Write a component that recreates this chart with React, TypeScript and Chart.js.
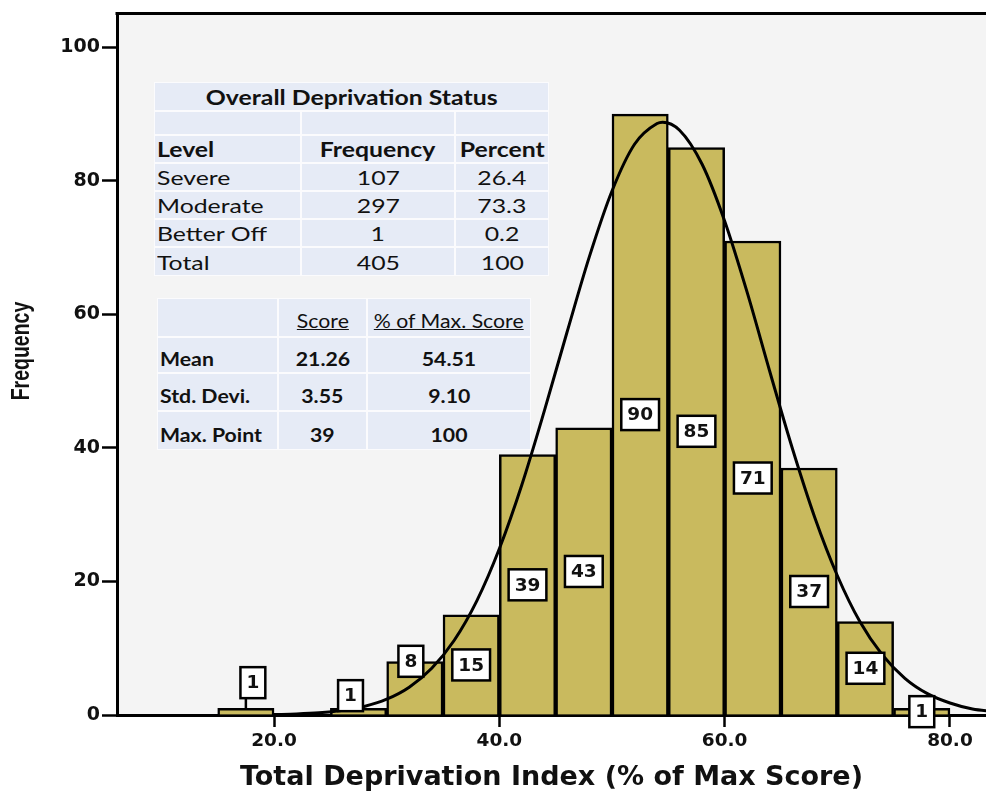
import React, { useEffect, useRef } from 'react';
import { Chart, registerables } from 'chart.js';

Chart.register(...registerables);

// ---------- data ----------
const binStarts = [15, 20, 25, 30, 35, 40, 45, 50, 55, 60, 65, 70, 75];
const binWidth = 5;
const frequencies = [1, 0, 1, 8, 15, 39, 43, 90, 85, 71, 37, 14, 1];

// fitted normal curve
const curveX = [20, 22, 24, 26, 28, 30, 32, 34, 36, 38, 40, 42, 44, 46, 48, 50, 52, 54, 54.5, 56, 58, 60, 62, 64, 66, 68, 70, 72, 74, 76, 78, 80, 82, 84];
const curveY = [0.07, 0.15, 0.32, 0.66, 1.27, 2.36, 4.16, 7.0, 11.2, 17.1, 24.9, 34.5, 45.6, 57.3, 68.7, 78.5, 85.5, 88.6, 88.8, 87.6, 82.5, 74.0, 63.3, 51.5, 40.0, 29.6, 20.9, 14.0, 9.0, 5.5, 3.2, 1.8, 0.9, 0.5];

const xTicks = [20, 40, 60, 80];
const yTicks = [0, 20, 40, 60, 80, 100];

const xTitle = 'Total Deprivation Index (% of Max Score)';
const yTitle = 'Frequency';

// overlay tables
const statusTitle = 'Overall Deprivation Status';
const statusHeaders = ['Level', 'Frequency', 'Percent'];
const statusLevels = ['Severe', 'Moderate', 'Better Off', 'Total'];
const statusFrequency = ['107', '297', '1', '405'];
const statusPercent = ['26.4', '73.3', '0.2', '100'];

const statsHeaders = ['', 'Score', '% of Max. Score'];
const statsRows = ['Mean', 'Std. Devi.', 'Max. Point'];
const statsScore = ['21.26', '3.55', '39'];
const statsPercentMax = ['54.51', '9.10', '100'];

// ---------- styling ----------
const BAR_FILL = '#c9ba5e';
const PLOT_BG = '#f4f4f4';
const CELL_BG = '#e6ebf6';
const TEXT = '#111111';

const labelNudge: Record<number, { dx: number; dy: number; leader?: boolean }> = {
  0: { dx: 7, dy: -29, leader: true },
  2: { dx: -8, dy: -16 },
  3: { dx: -4, dy: -27 },
};

const decorPlugin = {
  id: 'decor',
  beforeDraw(chart: any) {
    const { ctx, chartArea: a } = chart;
    ctx.save();
    ctx.fillStyle = '#ffffff';
    ctx.fillRect(0, 0, chart.width, chart.height);
    ctx.fillStyle = PLOT_BG;
    ctx.fillRect(a.left, a.top, a.right - a.left, a.bottom - a.top);
    ctx.restore();
  },
  afterDatasetsDraw(chart: any) {
    const { ctx } = chart;
    const meta = chart.getDatasetMeta(0);
    const ys = chart.scales.y;
    ctx.save();
    ctx.font = 'bold 18.5px "DejaVu Sans"';
    ctx.textAlign = 'center';
    ctx.textBaseline = 'middle';
    frequencies.forEach((v, i) => {
      if (!v) return;
      const bar = meta.data[i];
      const n = labelNudge[i] || { dx: 0, dy: 0 };
      const cx = bar.x + n.dx;
      const cy = ys.getPixelForValue(v / 2) + n.dy;
      const text = String(v);
      const tw = ctx.measureText(text).width;
      const w = tw + 12;
      const h = 31;
      ctx.strokeStyle = '#000';
      ctx.lineWidth = 2.5;
      if (n.leader) {
        ctx.beginPath();
        ctx.moveTo(bar.x, cy + h / 2);
        ctx.lineTo(bar.x, ys.getPixelForValue(v));
        ctx.stroke();
      }
      ctx.fillStyle = '#fff';
      ctx.fillRect(cx - w / 2, cy - h / 2, w, h);
      ctx.strokeRect(cx - w / 2, cy - h / 2, w, h);
      ctx.fillStyle = TEXT;
      ctx.fillText(text, cx, cy + 1);
    });
    ctx.restore();
  },
  afterDraw(chart: any) {
    const { ctx, chartArea: a } = chart;
    ctx.save();
    ctx.strokeStyle = '#000';
    ctx.lineWidth = 3;
    ctx.beginPath();
    ctx.moveTo(a.left - 1.5, a.top);
    ctx.lineTo(a.right, a.top);
    ctx.stroke();
    // y axis title (glyphs widened like the source)
    ctx.translate(22, 351);
    ctx.rotate(-Math.PI / 2);
    ctx.scale(1, 1.3);
    ctx.font = 'bold 19.5px "Liberation Sans"';
    ctx.fillStyle = TEXT;
    ctx.textAlign = 'center';
    ctx.textBaseline = 'middle';
    ctx.fillText(yTitle, 0, 0);
    ctx.restore();
  },
};

type CellSpec = {
  x0: number; x1: number; y0: number; y1: number;
  text?: string; align?: 'left' | 'center'; bold?: boolean; underline?: boolean; dy?: number;
};

function Cell({ c, size, stretch }: { c: CellSpec; size: number; stretch: number }) {
  const left = c.align === 'left';
  return (
    <div
      style={{
        position: 'absolute', left: c.x0, top: c.y0, width: c.x1 - c.x0, height: c.y1 - c.y0,
        background: CELL_BG, display: 'flex', alignItems: 'center',
        justifyContent: left ? 'flex-start' : 'center', paddingLeft: left ? 2 : 0,
        boxSizing: 'border-box', fontFamily: 'Lato', fontSize: size,
        fontWeight: c.bold ? 700 : 400, color: TEXT, whiteSpace: 'nowrap', lineHeight: 1,
      }}
    >
      <span
        style={{
          display: 'inline-block', transform: `scaleX(${stretch})`,
          transformOrigin: left ? 'left center' : 'center center',
          textDecoration: c.underline ? 'underline' : 'none',
          position: 'relative', top: c.dy || 0,
        }}
      >
        {c.text || ''}
      </span>
    </div>
  );
}

function Table({ cells, size, stretch, box }: { cells: CellSpec[]; size: number; stretch: number; box: number[] }) {
  return (
    <>
      <div style={{ position: 'absolute', left: box[0] - 1, top: box[1] - 1, width: box[2] - box[0] + 2, height: box[3] - box[1] + 2, background: '#fbfbfd' }} />
      {cells.map((c, i) => <Cell key={i} c={c} size={size} stretch={stretch} />)}
    </>
  );
}

function statusCells(): CellSpec[] {
  const cols = [[155, 300], [302, 454], [456, 548]];
  const cells: CellSpec[] = [];
  cells.push({ x0: 155, x1: 548, y0: 83, y1: 110, text: statusTitle, bold: true });
  cols.forEach(([a, b]) => cells.push({ x0: a, x1: b, y0: 112, y1: 134 }));
  statusHeaders.forEach((t, j) => cells.push({ x0: cols[j][0], x1: cols[j][1], y0: 136, y1: 162, text: t, bold: true, align: j === 0 ? 'left' : 'center' }));
  statusLevels.forEach((lv, i) => {
    const y0 = 164 + 28 * i;
    const y1 = i === 3 ? 275 : y0 + 26;
    const vals = [lv, statusFrequency[i], statusPercent[i]];
    vals.forEach((t, j) => cells.push({ x0: cols[j][0], x1: cols[j][1], y0, y1, text: t, align: j === 0 ? 'left' : 'center' }));
  });
  return cells;
}

function statsCells(): CellSpec[] {
  const cols = [[158, 277], [279, 366], [368, 530]];
  const rows = [[299, 336], [338, 372], [374, 410], [412, 449]];
  const cells: CellSpec[] = [];
  statsHeaders.forEach((t, j) => cells.push({ x0: cols[j][0], x1: cols[j][1], y0: rows[0][0], y1: rows[0][1], text: t, underline: true, dy: 3 }));
  statsRows.forEach((r, i) => {
    const vals = [r, statsScore[i], statsPercentMax[i]];
    vals.forEach((t, j) => cells.push({ x0: cols[j][0], x1: cols[j][1], y0: rows[i + 1][0], y1: rows[i + 1][1], text: t, bold: true, align: j === 0 ? 'left' : 'center', dy: 4 }));
  });
  return cells;
}

export default function App() {
  const canvasRef = useRef<HTMLCanvasElement>(null);

  useEffect(() => {
    const canvas = canvasRef.current;
    if (!canvas) return;
    const chart = new Chart(canvas, {
      type: 'bar',
      data: {
        datasets: [
          {
            type: 'bar',
            label: 'Frequency',
            data: binStarts.map((s, i) => ({ x: s + binWidth / 2, y: frequencies[i] })),
            backgroundColor: BAR_FILL,
            borderColor: '#000',
            borderWidth: 2.5,
            barPercentage: 1,
            categoryPercentage: 1,
            order: 2,
          } as any,
          {
            type: 'line',
            label: 'Normal',
            data: curveX.map((x, i) => ({ x, y: curveY[i] })),
            borderColor: '#000',
            borderWidth: 3,
            pointRadius: 0,
            fill: false,
            cubicInterpolationMode: 'monotone',
            order: 1,
          } as any,
        ],
      },
      options: {
        animation: false,
        responsive: false,
        maintainAspectRatio: false,
        layout: { padding: { top: 13, right: 0, left: 0, bottom: 0 } },
        plugins: { legend: { display: false }, tooltip: { enabled: false }, title: { display: false } },
        scales: {
          x: {
            type: 'linear',
            min: 6.06,
            max: 83.2,
            offset: false,
            afterBuildTicks: (s: any) => { s.ticks = xTicks.map((v) => ({ value: v })); },
            afterFit: (s: any) => { s.height = 78; },
            grid: { offset: false, drawOnChartArea: false, drawTicks: true, tickLength: 12, tickWidth: 2.5, tickColor: '#000' },
            border: { display: true, color: '#000', width: 3 },
            ticks: {
              color: TEXT,
              font: { family: 'DejaVu Sans', weight: 'bold', size: 18.5 },
              padding: 3,
              maxRotation: 0,
              callback: (v: any) => Number(v).toFixed(1),
            },
            title: {
              display: true,
              text: xTitle,
              color: TEXT,
              font: { family: 'DejaVu Sans', weight: 'bold', size: 27 },
              padding: { top: 0, bottom: -1 },
            },
          },
          y: {
            type: 'linear',
            min: 0,
            max: 105.1,
            afterBuildTicks: (s: any) => { s.ticks = yTicks.map((v) => ({ value: v })); },
            afterFit: (s: any) => { s.width = 117; },
            grid: { drawOnChartArea: false, drawTicks: true, tickLength: 15, tickWidth: 2.5, tickColor: '#000' },
            border: { display: true, color: '#000', width: 3 },
            ticks: {
              color: TEXT,
              font: { family: 'DejaVu Sans', weight: 'bold', size: 19 },
              padding: 2,
            },
          },
        },
      },
      plugins: [decorPlugin],
    });
    return () => chart.destroy();
  }, []);

  return (
    <div style={{ position: 'fixed', left: 0, top: 0, width: 986, height: 793, background: '#fff', overflow: 'hidden' }}>
      <canvas ref={canvasRef} width={986} height={793} style={{ position: 'absolute', left: 0, top: 0, width: 986, height: 793 }} />
      <Table cells={statusCells()} size={20} stretch={1.24} box={[155, 83, 548, 275]} />
      <Table cells={statsCells()} size={19.5} stretch={1.09} box={[158, 299, 530, 449]} />
    </div>
  );
}
